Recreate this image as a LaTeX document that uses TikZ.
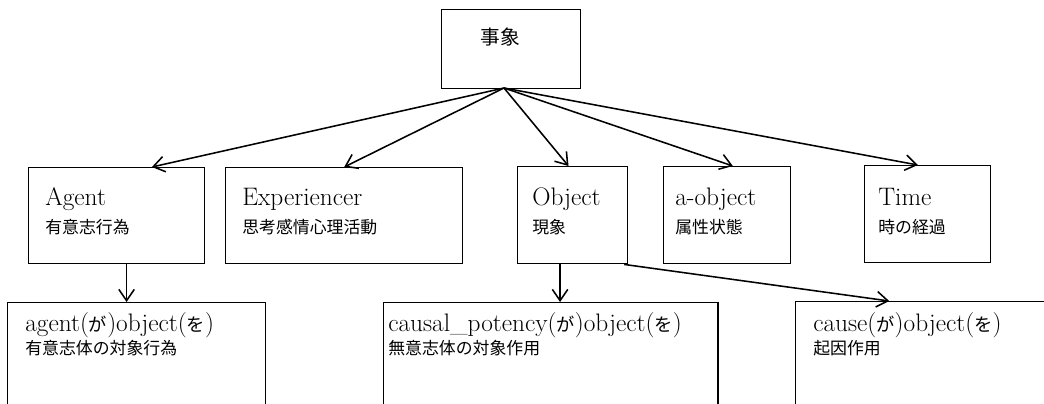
\documentclass[tikz,border=0pt]{standalone}
\usepackage{fontspec}
\usepackage{tikz}
\usetikzlibrary{arrows.meta}
\newfontfamily\jpfont{Noto Sans CJK JP}
\newcommand{\kana}[1]{{\jpfont\fontsize{13}{15}\selectfont #1}}

\tikzset{
  box/.style={draw, line width=1pt, anchor=north west, inner sep=0pt},
  lat/.style={anchor=base west, inner sep=0pt, font=\fontsize{18}{21}\selectfont},
  jp/.style={anchor=base west, inner sep=0pt, font=\jpfont\fontsize{12}{14}\selectfont},
  arr/.style={line width=1.1pt, -{Straight Barb[length=8pt,width=11pt,line width=1.1pt]}}
}

\begin{document}
\begin{tikzpicture}[x=0.025cm, y=-0.025cm]
\clip (0,0) rectangle (1044,403);

% 上位:事象
\node[box, minimum width=3.475cm, minimum height=1.975cm] (event) at (441,9) {};
\node[jp, anchor=center, font=\jpfont\fontsize{14}{16}\selectfont] (eventL) at (500,37) {事象};
\coordinate (hub) at (504,88);

% 中段
\node[box, minimum width=4.4cm, minimum height=2.4cm] (agent) at (28,167) {};
\node[lat] (agentL) at (45,205) {Agent};
\node[jp] (agentJ) at (45,233) {有意志行為};

\node[box, minimum width=5.925cm, minimum height=2.4cm] (exp) at (225,167) {};
\node[lat] (expL) at (242,205) {Experiencer};
\node[jp] (expJ) at (242,233) {思考感情心理活動};

\node[box, minimum width=2.75cm, minimum height=2.425cm] (object) at (517,166) {};
\node[lat] (objectL) at (532,205) {Object};
\node[jp] (objectJ) at (532,233) {現象};

\node[box, minimum width=3.175cm, minimum height=2.425cm] (aobj) at (663,166) {};
\node[lat] (aobjL) at (675,205) {a-object};
\node[jp] (aobjJ) at (675,233) {属性状態};

\node[box, minimum width=3.15cm, minimum height=2.425cm] (time) at (864,165) {};
\node[lat] (timeL) at (878,205) {Time};
\node[jp] (timeJ) at (878,233) {時の経過};

% 下段(下端は切れている)
\node[box, minimum width=6.45cm, minimum height=3.5cm] (agob) at (7,302) {};
\node[lat] (agobL) at (25,331) {agent(\kana{が})object(\kana{を})};
\node[jp] (agobJ) at (25,354) {有意志体の対象行為};

\node[box, minimum width=8.35cm, minimum height=3.5cm] (causal) at (383,302) {};
\node[lat] (causalL) at (388,331) {causal\_potency(\kana{が})object(\kana{を})};
\node[jp] (causalJ) at (388,354) {無意志体の対象作用};

\node[box, minimum width=8cm, minimum height=3.5cm] (cause) at (795,301) {};
\node[lat] (causeL) at (813,331) {cause(\kana{が})object(\kana{を})};
\node[jp] (causeJ) at (813,354) {起因作用};

% 矢印
\draw[arr] (hub) -- ([xshift=25pt]agent.north);
\draw[arr] (hub) -- (exp.north);
\draw[arr] (hub) -- ([xshift=-3pt]object.north);
\draw[arr] (hub) -- ([xshift=4pt]aobj.north);
\draw[arr] (hub) -- ([xshift=-7pt]time.north);

\draw[arr] ([xshift=7pt]agent.south) -- ([xshift=7pt]agent.south |- agob.north);
\draw[arr] ([xshift=-9pt]object.south) -- ([xshift=-9pt]object.south |- causal.north);
\draw[arr] ([xshift=-3pt]object.south east) -- ([xshift=67pt]cause.north west);
\end{tikzpicture}
\end{document}
